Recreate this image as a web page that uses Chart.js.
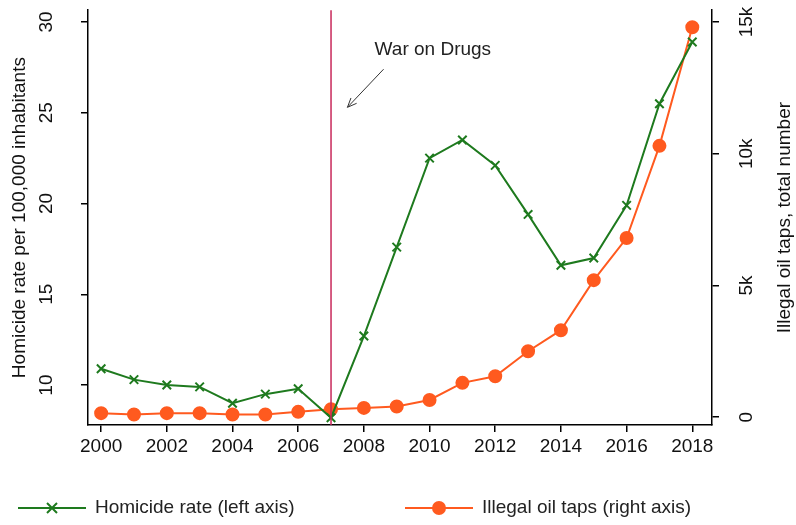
<!DOCTYPE html>
<html><head><script src="https://cdn.jsdelivr.net/npm/chart.js"></script>
<style>body{margin:0;background:#fff}#w{width:796px;height:525px}</style></head>
<body><div id="w"><canvas id="c"></canvas></div>
<script>
const years=[2000,2001,2002,2003,2004,2005,2006,2007,2008,2009,2010,2011,2012,2013,2014,2015,2016,2017,2018];
const homicide=[10.9,10.3,10.0,9.9,9.0,9.5,9.8,8.2,12.7,17.6,22.5,23.5,22.1,19.4,16.6,17.0,19.9,25.5,28.9];
const oilTaps=[150,100,150,150,100,100,200,300,350,400,650,1300,1550,2500,3300,5200,6800,10300,14800];
const xTicks=[2000,2002,2004,2006,2008,2010,2012,2014,2016,2018];
const leftTicks=[10,15,20,25,30];
const rightTicks=[0,5000,10000,15000];
const rightLabels=['0','5k','10k','15k'];
const F='19px Arial, Liberation Sans';
function rotText(ctx,t,x,y){ctx.save();ctx.translate(x,y);ctx.rotate(-Math.PI/2);ctx.textAlign='center';ctx.textBaseline='middle';ctx.fillText(t,0,0);ctx.restore();}
const annot={
 id:'annot',
 afterDatasetsDraw(ch){
  const {ctx,scales:{x,y,y2},chartArea:ca}=ch;
  const px=x.getPixelForValue(2007);
  ctx.save();
  ctx.strokeStyle='#c8285a';ctx.lineWidth=1.5;
  ctx.beginPath();ctx.moveTo(px,ca.top);ctx.lineTo(px,ca.bottom);ctx.stroke();
  ctx.fillStyle='#222';ctx.font=F;ctx.textAlign='center';
  ctx.fillText('War on Drugs',x.getPixelForValue(2010.1),y.getPixelForValue(28.2));
  const x1=x.getPixelForValue(2008.6),y1=y.getPixelForValue(27.4),x2=x.getPixelForValue(2007.5),y2p=y.getPixelForValue(25.3);
  ctx.strokeStyle='#333';ctx.lineWidth=1;
  ctx.beginPath();ctx.moveTo(x1,y1);ctx.lineTo(x2,y2p);ctx.stroke();
  const a=Math.atan2(y2p-y1,x2-x1);
  ctx.beginPath();ctx.moveTo(x2,y2p);
  ctx.lineTo(x2-10*Math.cos(a-0.4),y2p-10*Math.sin(a-0.4));
  ctx.moveTo(x2,y2p);
  ctx.lineTo(x2-10*Math.cos(a+0.4),y2p-10*Math.sin(a+0.4));
  ctx.stroke();
  // rotated axis labels
  ctx.fillStyle='#111';ctx.font=F;
  leftTicks.forEach(v=>rotText(ctx,String(v),ca.left-41,y.getPixelForValue(v)));
  rightTicks.forEach((v,i)=>rotText(ctx,rightLabels[i],ca.right+35,y2.getPixelForValue(v)));
  rotText(ctx,'Homicide rate per 100,000 inhabitants',ca.left-68,(ca.top+ca.bottom)/2);
  rotText(ctx,'Illegal oil taps, total number',ca.right+73,(ca.top+ca.bottom)/2);
  // legend
  const ly=508;
  const items=[{x0:18,c:'#1e7a1e',m:'x',t:'Homicide rate (left axis)',tx:95},{x0:405,c:'#ff5a1f',m:'o',t:'Illegal oil taps (right axis)',tx:482}];
  ctx.textAlign='left';ctx.textBaseline='middle';
  items.forEach(it=>{
   ctx.strokeStyle=it.c;ctx.fillStyle=it.c;ctx.lineWidth=2;
   ctx.beginPath();ctx.moveTo(it.x0,ly);ctx.lineTo(it.x0+68,ly);ctx.stroke();
   const cx=it.x0+34;
   if(it.m==='x'){ctx.beginPath();ctx.moveTo(cx-5,ly-5);ctx.lineTo(cx+5,ly+5);ctx.moveTo(cx-5,ly+5);ctx.lineTo(cx+5,ly-5);ctx.stroke();}
   else{ctx.beginPath();ctx.arc(cx,ly,7,0,Math.PI*2);ctx.fill();}
   ctx.fillStyle='#222';ctx.fillText(it.t,it.tx,ly);
  });
  ctx.restore();
 }};
Chart.defaults.font.family='Arial, Liberation Sans';
Chart.defaults.color='#111';
const tk={drawOnChartArea:false,drawTicks:true,tickLength:7,color:'#000',lineWidth:1.5};
new Chart(document.getElementById('c'),{
 type:'line',
 data:{datasets:[
  {label:'Homicide rate (left axis)',data:years.map((v,i)=>({x:v,y:homicide[i]})),yAxisID:'y',borderColor:'#1e7a1e',backgroundColor:'#1e7a1e',borderWidth:2,pointStyle:'crossRot',pointRadius:6,pointBorderWidth:2},
  {label:'Illegal oil taps (right axis)',data:years.map((v,i)=>({x:v,y:oilTaps[i]})),yAxisID:'y2',borderColor:'#ff5a1f',backgroundColor:'#ff5a1f',borderWidth:2,pointStyle:'circle',pointRadius:6}
 ]},
 options:{responsive:true,maintainAspectRatio:false,animation:false,
  layout:{padding:{left:0,right:0,top:8,bottom:0}},
  plugins:{legend:{display:false},tooltip:{enabled:false}},
  scales:{
   x:{type:'linear',min:1999.6,max:2018.6,grid:tk,border:{color:'#000',width:1.5},
     afterBuildTicks(s){s.ticks=xTicks.map(v=>({value:v}));},
     afterFit(s){s.height=100;},
     ticks:{font:{size:19},callback:v=>String(v),maxRotation:0}},
   y:{position:'left',min:7.8,max:30.65,grid:tk,border:{color:'#000',width:1.5},
     afterBuildTicks(s){s.ticks=leftTicks.map(v=>({value:v}));},
     afterFit(s){s.width=88;},
     ticks:{callback:()=>''}},
   y2:{position:'right',min:-300,max:15450,grid:tk,border:{color:'#000',width:1.5},
     afterBuildTicks(s){s.ticks=rightTicks.map(v=>({value:v}));},
     afterFit(s){s.width=84;},
     ticks:{callback:()=>''}}
  }},
 plugins:[annot]
});
</script></body></html>
